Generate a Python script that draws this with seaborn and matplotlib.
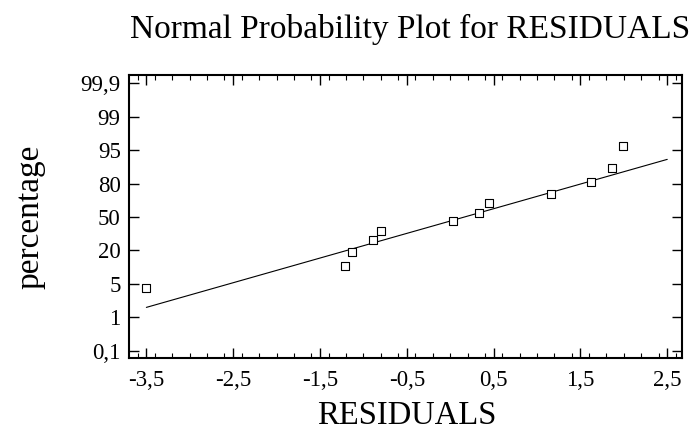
import matplotlib
matplotlib.use("Agg")
import matplotlib.pyplot as plt
from matplotlib.ticker import MultipleLocator
import seaborn as sns
import pandas as pd
import numpy as np
from statistics import NormalDist

# ---- data ----
residuals = [-3.50, -1.215, -1.13, -0.885, -0.80, 0.033, 0.333, 0.448, 1.162, 1.619, 1.869, 1.995]
percentage = [5.1, 13.3, 21.4, 29.6, 37.8, 45.9, 54.1, 62.2, 70.4, 78.6, 86.7, 94.9]
line_mu = 0.164
line_sigma = 1.77
line_x = [-3.5, 2.5]
y_tick_labels = ["0,1", "1", "5", "20", "50", "80", "95", "99", "99,9"]
x_tick_values = [-3.5, -2.5, -1.5, -0.5, 0.5, 1.5, 2.5]

nd = NormalDist()
z = [nd.inv_cdf(p / 100.0) for p in percentage]
df = pd.DataFrame({"x": residuals, "z": z})
line_df = pd.DataFrame({"x": line_x, "z": [(v - line_mu) / line_sigma for v in line_x]})

sns.set_theme(style="white")
plt.rcParams["font.family"] = ["Liberation Serif", "DejaVu Serif"]

fig = plt.figure(figsize=(6.91, 4.33), dpi=100)
ax = fig.add_axes([129 / 691, 1 - 358 / 433, (682 - 129) / 691, (358 - 75) / 433])

sns.lineplot(data=line_df, x="x", y="z", ax=ax, color="black", linewidth=0.8)
sns.scatterplot(data=df, x="x", y="z", ax=ax, marker="s", s=26,
                facecolor="white", edgecolor="black", linewidth=0.8, zorder=3)

step = 0.767
ytick_pos = [(i - 4) * step for i in range(len(y_tick_labels))]
ax.set_yticks(ytick_pos)
ax.set_yticklabels(y_tick_labels)
ax.set_xticks(x_tick_values)
ax.set_xticklabels([f"{v:.1f}".replace(".", ",") for v in x_tick_values])
ax.xaxis.set_minor_locator(MultipleLocator(0.2))
ax.set_xlim(-3.70, 2.67)
ax.set_ylim(-4.21 * step, 4.24 * step)

ax.tick_params(axis="both", which="both", direction="in", top=True, right=True,
               bottom=True, left=True, colors="black", labelsize=16.5)
ax.tick_params(axis="both", which="major", length=7, width=1.0, pad=6)
ax.tick_params(axis="x", which="minor", length=3.5, width=0.8)
ax.tick_params(axis="x", which="major", pad=9)
for s in ax.spines.values():
    s.set_color("black")
    s.set_linewidth(1.5)

ax.set_xlabel("")
ax.set_ylabel("")
fig.text(410 / 691, 1 - 38 / 433, "Normal Probability Plot for RESIDUALS",
         ha="center", va="baseline", fontsize=24, color="black")
fig.text(406.5 / 691, 2 / 433, "RESIDUALS", ha="center", va="bottom",
         fontsize=23.5, color="black")
fig.text(30 / 691, 1 - 217 / 433, "percentage", ha="center", va="center",
         rotation=90, fontsize=24, color="black")

fig.savefig("out.png", dpi=100, facecolor="white")
